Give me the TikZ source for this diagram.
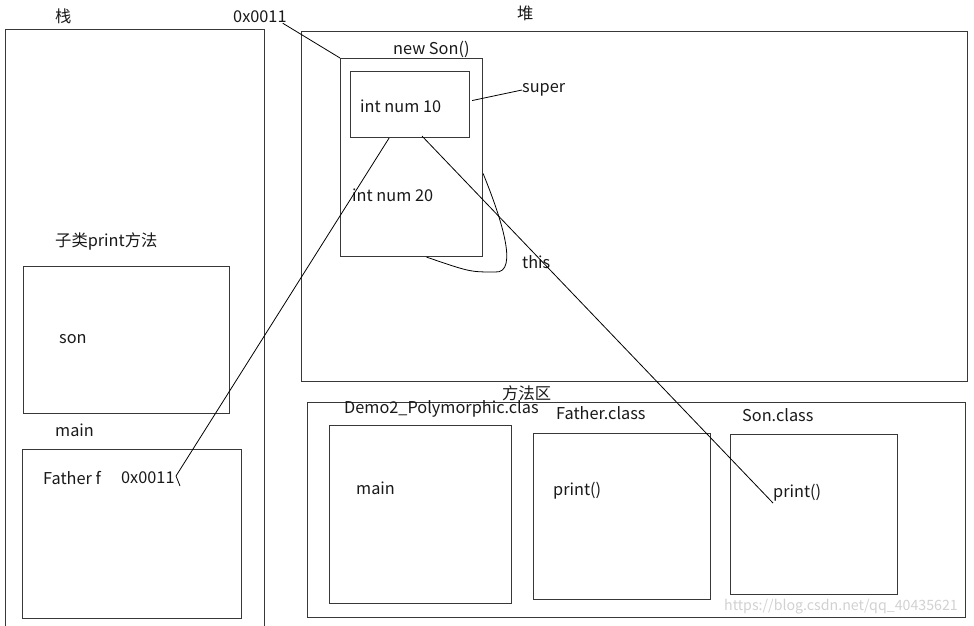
\documentclass[tikz,border=0pt]{standalone}
\usepackage{fontspec}
\setmainfont{Noto Sans CJK SC}
\begin{document}
\begin{tikzpicture}[x=1pt,y=-1pt,
  box/.style={draw=black!78, line width=1.1pt, inner sep=0pt, anchor=north west},
  lbl/.style={anchor=west, inner sep=0pt, font=\fontsize{16.3}{19}\selectfont, text=black!90},
  link/.style={draw=black, line width=0.8pt}]
\useasboundingbox (0,0) rectangle (974,626);
\begin{scope}
\clip (0,0) rectangle (974,626);
% stack (its bottom edge lies below the picture)
\node[box, minimum width=259pt, minimum height=620pt] (stack) at (5,29) {};
\end{scope}
\node[lbl] (tstack) at (55,16) {栈};
% heap
\node[box, minimum width=666pt, minimum height=350pt] (heap) at (301,31) {};
\node[lbl] (theap) at (517,13) {堆};
\node[box, minimum width=142pt, minimum height=198pt] (newson) at (340,58) {};
\node[box, minimum width=119pt, minimum height=66pt] (inner) at (350,71) {};
\node[lbl] (tnewson) at (393,49) {new Son()};
\node[lbl] (num10) at (360,106) {int num 10};
\node[lbl] (num20) at (352,195) {int num 20};
\node[lbl] (super) at (522,90) {super};
\node[lbl] (this) at (522,262) {this};
\node[lbl] (addrtop) at (233,17) {0x0011};
% stack frames
\node[lbl] (tsonm) at (55,241) {子类print方法};
\node[box, minimum width=206pt, minimum height=147pt] (sonframe) at (23,266) {};
\node[lbl] (son) at (59,339) {son};
\node[lbl] (tmain) at (55,430) {main};
\node[box, minimum width=219pt, minimum height=169pt] (mainframe) at (22,449) {};
\node[lbl] (fatherf) at (43,478) {Father f};
\node[lbl] (addr) at (121,478) {0x0011};
% method area
\node[box, minimum width=658pt, minimum height=215pt] (method) at (307,402) {};
\node[lbl] (tmethod) at (502,393) {方法区};
\node[box, minimum width=182pt, minimum height=178pt] (demo) at (329,425) {};
\node[lbl] (tdemo) at (344,409) {Demo2\_Polymorphic.clas};
\node[lbl] (dmain) at (356,488) {main};
\node[box, minimum width=177pt, minimum height=166pt] (father) at (533,433) {};
\node[lbl] (tfather) at (556,413) {Father.class};
\node[lbl] (fprint) at (553,491) {print()};
\node[box, minimum width=167pt, minimum height=160pt] (sonclass) at (730,434) {};
\node[lbl] (tsonclass) at (742,415) {Son.class};
\node[lbl] (sprint) at (773,493) {print()};
\node[anchor=west, inner sep=0pt, font=\fontsize{14.2}{17}\selectfont, text=black!18] (wm) at (724,607) {https://blog.csdn.net/qq\_40435621};
% connectors
\coordinate (ptr) at (176,476);
\coordinate (ptrtick) at (180,486);
\draw[link] ([xshift=-4pt]addrtop.south east) -- (newson.north west);
\draw[link] ([xshift=2pt,yshift=4pt]inner.east) -- (super.west);
\draw[link] ([xshift=-21pt]inner.south) -- (ptr) -- (ptrtick);
\draw[link] ([xshift=12pt,yshift=2pt]inner.south) -- ([yshift=-10pt]sprint.west);
\draw[link] ([yshift=-16pt]newson.east) .. controls (500,215) and (520,274) .. (495,272)
  .. controls (470,272) .. ([xshift=15pt]newson.south);
\end{tikzpicture}
\end{document}
